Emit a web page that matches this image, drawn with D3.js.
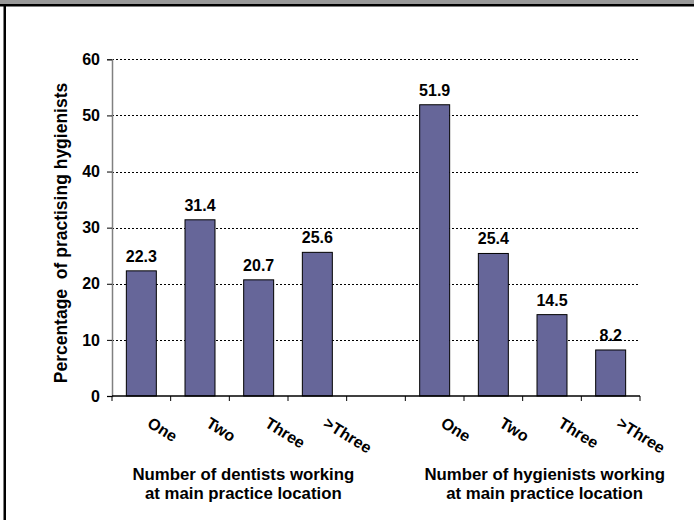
<!DOCTYPE html>
<html>
<head>
<meta charset="utf-8">
<script src="https://cdn.jsdelivr.net/npm/d3@7"></script>
<style>
  html, body { margin: 0; padding: 0; background: #fff; }
  svg { display: block; }
  text { font-family: Arial, "Liberation Sans", Helvetica, sans-serif; font-weight: bold; fill: #000; }
</style>
</head>
<body>
<svg id="chart" width="694" height="520"></svg>
<script>
// ---- data ----
const categories = ["One", "Two", "Three", ">Three"];
const dentistValues = [22.3, 31.4, 20.7, 25.6];
const hygienistValues = [51.9, 25.4, 14.5, 8.2];
const groupTitles = [
  ["Number of dentists working", "at main practice location"],
  ["Number of hygienists working", "at main practice location"]
];
const yTicks = [0, 10, 20, 30, 40, 50, 60];
const yTitle = "Percentage  of practising hygienists";

// ---- build slots: 4 dentist bars, an empty slot, 4 hygienist bars ----
const slots = [];
categories.forEach((c, i) => slots.push({ key: "d" + i, label: c, value: dentistValues[i] }));
slots.push({ key: "gap", label: "", value: null });
categories.forEach((c, i) => slots.push({ key: "h" + i, label: c, value: hygienistValues[i] }));

const svg = d3.select("#chart");
const W = 694, H = 520;

// frame
svg.append("rect").attr("x", 0).attr("y", 0).attr("width", W).attr("height", 4).attr("fill", "#999999");
svg.append("rect").attr("x", 0).attr("y", 4).attr("width", W).attr("height", 2.5).attr("fill", "#000");
svg.append("rect").attr("x", 3.5).attr("y", 4).attr("width", 2.5).attr("height", H - 4).attr("fill", "#000");

const x = d3.scaleBand()
  .domain(slots.map(d => d.key))
  .range([112, 640])
  .paddingInner(0.489)
  .paddingOuter(0.2445);
const step = x.step();
const slotStart = k => x(k) - x.paddingOuter() * step;

const y = d3.scaleLinear().domain([0, 60]).range([396, 59.3]);

// gridlines
svg.append("g")
  .selectAll("line")
  .data(yTicks.filter(t => t > 0))
  .join("line")
  .attr("x1", 112).attr("x2", 640)
  .attr("y1", d => Math.round(y(d)) + 0.5).attr("y2", d => Math.round(y(d)) + 0.5)
  .attr("stroke", "#000").attr("stroke-width", 1)
  .attr("stroke-dasharray", "2,2");

// y axis
const yAxis = svg.append("g").attr("transform", "translate(112,0)")
  .call(d3.axisLeft(y).tickValues(yTicks).tickSize(5).tickPadding(7).tickFormat(d3.format("d")));
yAxis.select(".domain").attr("stroke", "#808080").attr("stroke-width", 1.5);
yAxis.selectAll(".tick line").attr("stroke", "#000");
yAxis.selectAll(".tick text")
  .style("font-size", "16px").style("font-family", "Arial, 'Liberation Sans', sans-serif")
  .style("font-weight", "bold").attr("fill", "#000");

// bars
const barData = slots.filter(d => d.value !== null);
svg.append("g")
  .selectAll("rect")
  .data(barData)
  .join("rect")
  .attr("x", d => x(d.key))
  .attr("y", d => y(d.value))
  .attr("width", x.bandwidth())
  .attr("height", d => y(0) - y(d.value))
  .attr("fill", "#666699")
  .attr("stroke", "#000")
  .attr("stroke-width", 1);

// value labels
svg.append("g")
  .selectAll("text")
  .data(barData)
  .join("text")
  .attr("x", d => x(d.key) + x.bandwidth() / 2)
  .attr("y", d => y(d.value) - 9)
  .attr("text-anchor", "middle")
  .style("font-size", "16px")
  .text(d => d.value.toFixed(1));

// x axis line and ticks at slot boundaries
const boundaries = slots.map(d => slotStart(d.key)).concat([640]);
svg.append("line")
  .attr("x1", 112).attr("x2", 640)
  .attr("y1", y(0)).attr("y2", y(0))
  .attr("stroke", "#000").attr("stroke-width", 1.5);
svg.append("g")
  .selectAll("line")
  .data(boundaries)
  .join("line")
  .attr("x1", d => d).attr("x2", d => d)
  .attr("y1", y(0)).attr("y2", y(0) + 5)
  .attr("stroke", "#000").attr("stroke-width", 1);

// category labels (rotated)
svg.append("g")
  .selectAll("text")
  .data(slots.filter(d => d.label))
  .join("text")
  .attr("transform", d => `translate(${x(d.key) + x.bandwidth() / 2 + 5},${y(0) + 30}) rotate(32)`)
  .attr("text-anchor", "start")
  .style("font-size", "16px")
  .text(d => d.label);

// group titles
const groupCenters = [
  (slotStart("d0") + slotStart("gap")) / 2 + 14,
  (slotStart("h0") + 640) / 2 + 22
];
groupTitles.forEach((lines, gi) => {
  lines.forEach((line, li) => {
    svg.append("text")
      .attr("x", groupCenters[gi])
      .attr("y", 480 + li * 18.5)
      .attr("text-anchor", "middle")
      .style("font-size", "16.8px")
      .text(line);
  });
});

// y axis title
svg.append("text")
  .attr("transform", `translate(67,${(81 + 385) / 2}) rotate(-90)`)
  .attr("text-anchor", "middle")
  .style("font-size", "17.5px")
  .style("white-space", "pre")
  .attr("xml:space", "preserve")
  .text(yTitle);
</script>
</body>
</html>
